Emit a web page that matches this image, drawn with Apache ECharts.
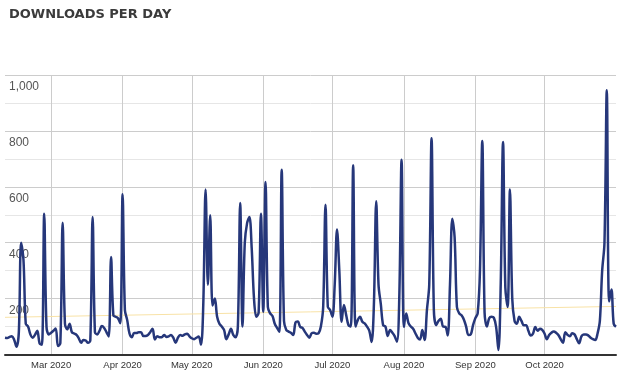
<!DOCTYPE html>
<html>
<head>
<meta charset="utf-8">
<script src="https://cdn.jsdelivr.net/npm/echarts@6/dist/echarts.min.js"></script>
<style>
  html, body { margin: 0; padding: 0; background: #fff; }
  #chart { width: 628px; height: 376px; }
</style>
</head>
<body>
<div id="chart"></div>
<script>
// first day of the series, one value per day after that
const startDate = [2020, 1, 10]
const values = [
  60, 59, 63, 65, 52, 28, 80, 400, 340, 110,
  100, 72, 60, 70, 85, 40, 35, 504, 99, 72,
  78, 85, 93, 30, 40, 471, 110, 90, 110, 80,
  75, 70, 58, 42, 52, 50, 42, 50, 492, 80,
  72, 85, 102, 95, 80, 64, 349, 140, 135, 130,
  112, 573, 159, 123, 75, 62, 77, 77, 80, 80,
  66, 66, 70, 80, 92, 54, 65, 62, 62, 70,
  63, 65, 70, 60, 42, 60, 70, 67, 72, 74,
  65, 58, 55, 60, 64, 35, 180, 590, 250, 498,
  175, 200, 135, 110, 100, 88, 55, 72, 92, 70,
  62, 100, 542, 100, 400, 470, 492, 380, 200, 135,
  150, 504, 153, 617, 170, 147, 138, 110, 95, 81,
  661, 120, 88, 82, 78, 70, 115, 118, 99, 95,
  82, 70, 60, 76, 78, 74, 76, 100, 170, 536,
  171, 159, 135, 250, 447, 300, 117, 177, 140, 105,
  100, 677, 100, 123, 135, 117, 111, 100, 85, 45,
  180, 548, 250, 180, 105, 100, 66, 88, 78, 66,
  46, 200, 697, 99, 147, 112, 100, 92, 76, 60,
  54, 88, 52, 160, 250, 774, 160, 105, 120, 128,
  100, 99, 68, 250, 486, 420, 170, 147, 140, 125,
  100, 70, 72, 105, 130, 147, 300, 764, 150, 100,
  130, 135, 132, 99, 16, 250, 760, 240, 170, 590,
  200, 120, 110, 135, 120, 105, 105, 85, 68, 75,
  98, 85, 92, 88, 75, 55, 70, 78, 82, 78,
  70, 55, 42, 80, 70, 65, 76, 72, 55, 40,
  65, 72, 72, 68, 60, 55, 52, 75, 120, 300,
  400, 945, 190, 233, 110, 99
]
// trend line, value at first and last day
const trend = [133, 172]
const monthNames = ['Jan', 'Feb', 'Mar', 'Apr', 'May', 'Jun', 'Jul', 'Aug', 'Sep', 'Oct', 'Nov', 'Dec']

const pad = n => (n < 10 ? '0' : '') + n
const days = values.map((v, i) => {
  const d = new Date(startDate[0], startDate[1], startDate[2] + i)
  return d.getFullYear() + '-' + pad(d.getMonth() + 1) + '-' + pad(d.getDate())
})
const trendData = values.map((v, i) => i === 0 ? trend[0] : (i === values.length - 1 ? trend[1] : null))

// month start that is not the last day: gets a grid line and a label
const isMonthStart = (i) => days[i].slice(8) === '01' && i < days.length - 1

const chart = echarts.init(document.getElementById('chart'))
chart.setOption({
  animation: false,
  title: {
    text: 'DOWNLOADS PER DAY',
    left: 4,
    top: 3,
    textStyle: {
      fontFamily: 'DejaVu Sans',
      fontWeight: 'bold',
      fontSize: 13,
      color: '#3b3b3b'
    }
  },
  grid: {
    show: false,
    left: 5,
    right: 12,
    top: 75,
    bottom: 21.5,
    containLabel: false,
    outerBoundsMode: 'none'
  },
  xAxis: {
    type: 'category',
    data: days,
    boundaryGap: false,
    axisLine: { show: true, lineStyle: { color: '#333', width: 2 } },
    axisTick: { show: false },
    splitLine: {
      show: true,
      interval: (i) => isMonthStart(i),
      lineStyle: { color: '#cccccc', width: 1 }
    },
    axisLabel: {
      interval: (i) => isMonthStart(i),
      margin: 6,
      fontFamily: 'Liberation Sans, Arial, sans-serif',
      fontSize: 9.5,
      color: '#333',
      formatter: function (val) {
        const m = +val.slice(5, 7) - 1
        return monthNames[m] + ' ' + val.slice(0, 4)
      }
    }
  },
  yAxis: {
    type: 'value',
    min: 0,
    max: 1000,
    interval: 100,
    axisLine: { show: false, lineStyle: { color: 'rgba(0,0,0,0)' } },
    axisTick: { show: false },
    splitLine: {
      lineStyle: { color: ['#cccccc', '#e6e6e6'], width: 1 }
    },
    axisLabel: {
      inside: true,
      margin: 4,
      verticalAlign: 'top',
      padding: [6, 0, 0, 0],
      fontFamily: 'Liberation Sans, Arial, sans-serif',
      fontSize: 12,
      color: '#555',
      formatter: function (v) {
        if (v === 0 || v % 200 !== 0) return ''
        return v.toLocaleString('en-US')
      }
    }
  },
  series: [
    {
      type: 'line',
      data: trendData,
      connectNulls: true,
      symbol: 'none',
      silent: true,
      lineStyle: { color: '#f8e2a6', width: 1 },
      z: 1
    },
    {
      type: 'line',
      data: values,
      symbol: 'none',
      smooth: 0.35,
      lineStyle: { color: '#26377a', width: 2.5 },
      z: 3
    }
  ]
})
</script>
</body>
</html>
